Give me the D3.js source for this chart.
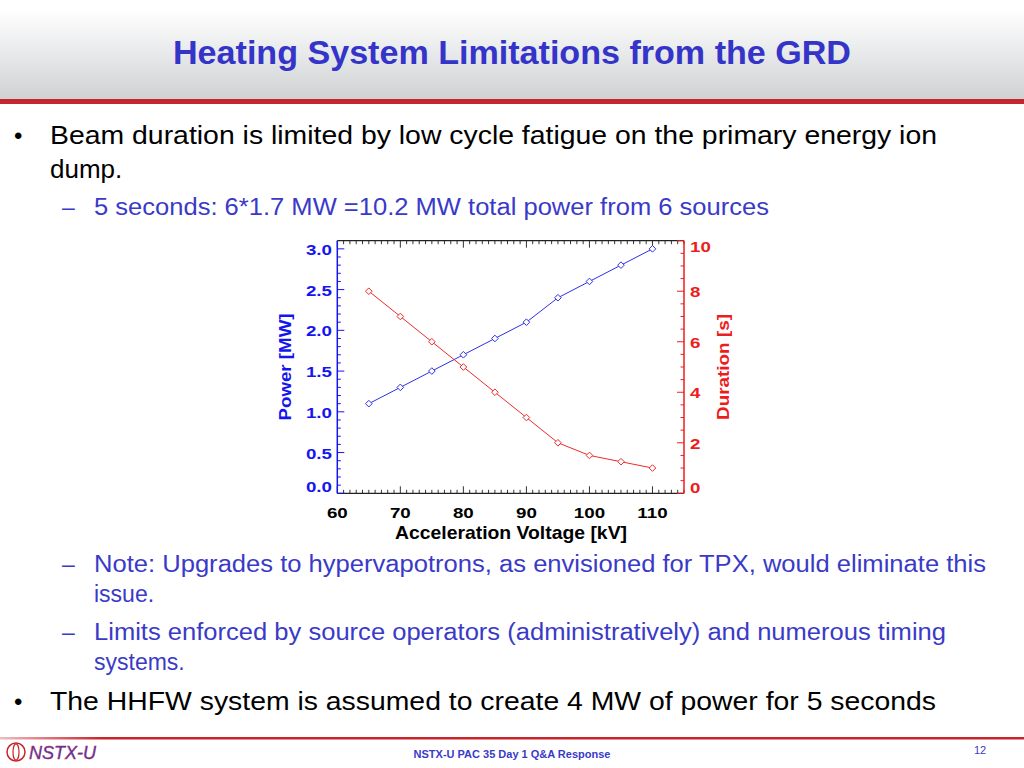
<!DOCTYPE html>
<html><head><meta charset="utf-8">
<script src="https://cdn.jsdelivr.net/npm/d3@7"></script>
<style>html,body{margin:0;padding:0;background:#fff;}svg{display:block;}</style>
</head><body>
<script>
const voltage = [65, 70, 75, 80, 85, 90, 95, 100, 105, 110];
const power = [1.1, 1.3, 1.5, 1.7, 1.9, 2.1, 2.4, 2.6, 2.8, 3.0];
const duration = [8, 7, 6, 5, 4, 3, 2, 1.5, 1.25, 1.0];
const xTicks = [60, 70, 80, 90, 100, 110];
const powerTicks = [0, 0.5, 1.0, 1.5, 2.0, 2.5, 3.0];
const durationTicks = [0, 2, 4, 6, 8, 10];

const W = 1024, H = 768;
const svg = d3.select("body").append("svg").attr("width", W).attr("height", H)
  .style("font-family", "'Liberation Sans', Arial, sans-serif");
const defs = svg.append("defs");
const g1 = defs.append("linearGradient").attr("id", "hdr").attr("x1", 0).attr("y1", 0).attr("x2", 0).attr("y2", 1);
g1.append("stop").attr("offset", "0%").attr("stop-color", "#ffffff");
g1.append("stop").attr("offset", "100%").attr("stop-color", "#cfd1d3");
const g2 = defs.append("linearGradient").attr("id", "ftr").attr("x1", 0).attr("y1", 0).attr("x2", 1).attr("y2", 0);
g2.append("stop").attr("offset", "0%").attr("stop-color", "#c8242c").attr("stop-opacity", 0.3);
g2.append("stop").attr("offset", "10%").attr("stop-color", "#c8242c");
g2.append("stop").attr("offset", "100%").attr("stop-color", "#c8242c");

// header
svg.append("rect").attr("x", 0).attr("y", 10).attr("width", W).attr("height", 90).attr("fill", "url(#hdr)");
svg.append("rect").attr("x", 0).attr("y", 99).attr("width", W).attr("height", 5).attr("fill", "#c3262f");
svg.append("text").attr("x", 512).attr("y", 64).attr("text-anchor", "middle")
  .style("font-family", "'Liberation Sans Narrow', 'Liberation Sans', Arial, sans-serif")
  .attr("font-size", 34).attr("font-weight", "bold").attr("fill", "#3434c8")
  .attr("textLength", 678).attr("lengthAdjust", "spacingAndGlyphs")
  .text("Heating System Limitations from the GRD");

// body text
function line(x, y, txt, size, color, len) {
  const t = svg.append("text").attr("x", x).attr("y", y).attr("font-size", size).attr("fill", color).text(txt);
  if (len) t.attr("textLength", len).attr("lengthAdjust", "spacingAndGlyphs");
  return t;
}
const black = "#000", blueT = "#3a3ac8";
line(14, 144, "•", 24, black);
line(50, 144, "Beam duration is limited by low cycle fatigue on the primary energy ion", 26, black, 887);
line(50, 178, "dump.", 26, black);
line(62, 215, "–", 23, blueT);
line(94, 215, "5 seconds: 6*1.7 MW =10.2 MW total power from 6 sources", 23, blueT, 675);
line(62, 572, "–", 23, blueT);
line(94, 572, "Note: Upgrades to hypervapotrons, as envisioned for TPX, would eliminate this", 23, blueT, 892);
line(94, 602, "issue.", 23, blueT);
line(62, 640, "–", 23, blueT);
line(94, 640, "Limits enforced by source operators (administratively) and numerous timing", 23, blueT, 852);
line(94, 670, "systems.", 23, blueT);
line(14, 710, "•", 24, black);
line(50, 710, "The HHFW system is assumed to create 4 MW of power for 5 seconds", 26, black, 886);

// footer
svg.append("rect").attr("x", 0).attr("y", 737).attr("width", W).attr("height", 2.5).attr("fill", "url(#ftr)");
const logo = svg.append("g");
logo.append("circle").attr("cx", 16).attr("cy", 752).attr("r", 9).attr("fill", "none").attr("stroke", "#c8242c").attr("stroke-width", 1.5);
logo.append("ellipse").attr("cx", 16).attr("cy", 752).attr("rx", 3).attr("ry", 8).attr("fill", "none").attr("stroke", "#c8242c").attr("stroke-width", 1.2);
logo.append("text").attr("x", 29).attr("y", 759).attr("font-size", 18).attr("font-style", "italic")
  .attr("fill", "#3a3ac8").attr("stroke", "#c8242c").attr("stroke-width", 0.4).text("NSTX-U");
svg.append("text").attr("x", 512).attr("y", 758).attr("text-anchor", "middle").attr("font-size", 11)
  .attr("font-weight", "bold").attr("fill", "#3a3ac8").text("NSTX-U PAC 35 Day 1 Q&A Response");
svg.append("text").attr("x", 980).attr("y", 754).attr("text-anchor", "middle").attr("font-size", 11)
  .attr("fill", "#3a3ac8").text("12");

// chart
const L = 337.3, R = 684, T = 240.7, B = 493.3;
const x = d3.scaleLinear().domain([60, 115]).range([L, R]);
const yP = d3.scaleLinear().domain([0, 3.1]).range([B, T]);
const yD = d3.scaleLinear().domain([0, 10]).range([B, T]);
const blue = "#1515f0", red = "#ee1c1c";
const SX = 1.25; // horizontal stretch of tick labels
const chart = svg.append("g");

// x axes (bottom & top), ticks inward
const xMinor = d3.range(60, 116, 1);
function xAxisTicks(yPos, dir) {
  const gg = chart.append("g");
  gg.selectAll("line.mn").data(xMinor).join("line")
    .attr("x1", d => x(d)).attr("x2", d => x(d))
    .attr("y1", yPos).attr("y2", d => yPos + dir * (d % 10 === 0 ? 7 : 3.5))
    .attr("stroke", "#333").attr("stroke-width", 1);
  gg.append("line").attr("x1", L).attr("x2", R).attr("y1", yPos).attr("y2", yPos).attr("stroke", "#222").attr("stroke-width", 1.3);
}
xAxisTicks(B, -1);
xAxisTicks(T, 1);

// left axis
const pMinor = d3.range(0, 31).map(i => i / 10);
const la = chart.append("g");
la.selectAll("line").data(pMinor).join("line")
  .attr("x1", L).attr("x2", (d, i) => L + (i % 5 === 0 ? 7 : 3.5))
  .attr("y1", d => yP(d)).attr("y2", d => yP(d)).attr("stroke", blue).attr("stroke-width", 1);
la.append("line").attr("x1", L).attr("x2", L).attr("y1", T).attr("y2", B).attr("stroke", blue).attr("stroke-width", 1.5);
la.selectAll("text").data(powerTicks).join("text")
  .attr("transform", d => `translate(332,${Math.min(yP(d), 486) + 6}) scale(${SX},1)`).attr("text-anchor", "end")
  .attr("font-size", 15).attr("font-weight", "bold").attr("fill", blue)
  .text(d => d3.format(".1f")(d));

// right axis
const dMinor = d3.range(0, 21).map(i => i / 2);
const ra = chart.append("g");
ra.selectAll("line").data(dMinor).join("line")
  .attr("x1", R).attr("x2", (d, i) => R - (i % 4 === 0 ? 7 : 3.5))
  .attr("y1", d => yD(d)).attr("y2", d => yD(d)).attr("stroke", red).attr("stroke-width", 1);
ra.append("line").attr("x1", R).attr("x2", R).attr("y1", T).attr("y2", B).attr("stroke", red).attr("stroke-width", 1.5);
ra.selectAll("text").data(durationTicks).join("text")
  .attr("transform", d => `translate(690,${Math.max(Math.min(yD(d), 487), 245.5) + 6}) scale(${SX},1)`)
  .attr("font-size", 15).attr("font-weight", "bold").attr("fill", red)
  .text(d => d);

// x tick labels
chart.selectAll("text.xt").data(xTicks).join("text").attr("class", "xt")
  .attr("transform", d => `translate(${x(d)},518) scale(${SX},1)`).attr("text-anchor", "middle")
  .attr("font-size", 15).attr("font-weight", "bold").attr("fill", "#000").text(d => d);

// axis titles
chart.append("text").attr("x", 511).attr("y", 539).attr("text-anchor", "middle")
  .attr("font-size", 18.5).attr("font-weight", "bold").attr("fill", "#000")
  .attr("textLength", 232).attr("lengthAdjust", "spacingAndGlyphs").text("Acceleration Voltage [kV]");
chart.append("text").attr("transform", "translate(291,367) rotate(-90)").attr("text-anchor", "middle")
  .attr("font-size", 17).attr("font-weight", "bold").attr("fill", blue)
  .attr("textLength", 107).attr("lengthAdjust", "spacingAndGlyphs").text("Power [MW]");
chart.append("text").attr("transform", "translate(729,367) rotate(-90)").attr("text-anchor", "middle")
  .attr("font-size", 17).attr("font-weight", "bold").attr("fill", red)
  .attr("textLength", 106).attr("lengthAdjust", "spacingAndGlyphs").text("Duration [s]");

// series
const pData = voltage.map((v, i) => [v, power[i]]);
const dData = voltage.map((v, i) => [v, duration[i]]);
chart.append("path").datum(pData).attr("fill", "none").attr("stroke", "#3030e8").attr("stroke-width", 1)
  .attr("d", d3.line().x(d => x(d[0])).y(d => yP(d[1])));
chart.append("path").datum(dData).attr("fill", "none").attr("stroke", "#ee2a2a").attr("stroke-width", 1)
  .attr("d", d3.line().x(d => x(d[0])).y(d => yD(d[1])));
const diamond = d3.symbol().type(d3.symbolDiamond2).size(28);
chart.selectAll("path.pm").data(pData).join("path").attr("class", "pm")
  .attr("transform", d => `translate(${x(d[0])},${yP(d[1])})`).attr("d", diamond)
  .attr("fill", "#fff").attr("stroke", "#3030e8").attr("stroke-width", 1);
chart.selectAll("path.dm").data(dData).join("path").attr("class", "dm")
  .attr("transform", d => `translate(${x(d[0])},${yD(d[1])})`).attr("d", diamond)
  .attr("fill", "#fff").attr("stroke", "#ee2a2a").attr("stroke-width", 1);
</script>
</body></html>
